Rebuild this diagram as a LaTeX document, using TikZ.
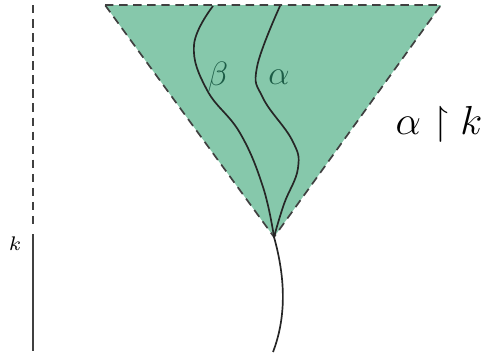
\documentclass[tikz,border=0pt]{standalone}
\usepackage{amssymb}
\definecolor{conegreen}{RGB}{134,200,171}
\definecolor{labelgreen}{RGB}{28,92,70}
\begin{document}
\begin{tikzpicture}[x=0.0125cm,y=-0.0125cm,line width=0.6pt]
\useasboundingbox (0,0) rectangle (482,358);

\coordinate (tl) at (105,5);
\coordinate (tr) at (441,5);
\coordinate (v) at (274,237);

\fill[conegreen] (tl) -- (tr) -- (v) -- cycle;
\draw[densely dashed,black!75] (tl) -- (tr) -- (v) -- cycle;

\draw[black!85] plot[smooth,tension=0.7] coordinates {(213,6) (194,45) (207,90) (240,133) (263,187) (v)};
\draw[black!85] plot[smooth,tension=0.7] coordinates {(280,6) (257,67) (263,98) (292,140) (298,168) (284,204) (v)};
\node[labelgreen,font=\fontsize{13}{15}\selectfont] at (218,77) {$\beta$};
\node[labelgreen,font=\fontsize{13}{15}\selectfont] at (279,77) {$\alpha$};

\draw[black!85] (v) .. controls (286,280) and (286,318) .. (273,352);

\node at (439,124) {\Large $\alpha\restriction k$};

\draw[densely dashed,black!75] (33,5) -- (33,228);
\draw[black!75] (33,234) -- (33,351);
\node at (15,244) {\scriptsize $k$};

\end{tikzpicture}
\end{document}
